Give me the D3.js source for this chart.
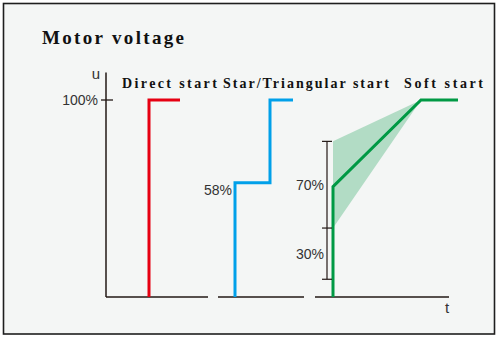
<!DOCTYPE html>
<html>
<head>
<meta charset="utf-8">
<script src="https://cdnjs.cloudflare.com/ajax/libs/d3/7.8.5/d3.min.js"></script>
<style>
  body { margin: 0; background: #fff; }
  svg { display: block; }
</style>
</head>
<body>
<div id="chartId"></div>
<script>
// chart values (t in arbitrary time units, u in % of full voltage)
const title = "Motor voltage";
const methods = ["Direct start", "Star/Triangular start", "Soft start"];
const methodLabelT = [16, 117, 298];

const directT = [43, 43, 74];
const directU = [0, 100, 100];

const starT = [129, 129, 164, 164, 187];
const starU = [0, 58, 58, 100, 100];

const softT = [227, 227, 315, 352];
const softU = [0, 56, 100, 100];

// tolerance band around the soft start ramp
const bandT = [227, 315];
const bandUpper = [79, 100];
const bandLower = [35, 100];

// bracket showing the start voltage range
const bracketU = [79, 35, 9];
const bracketLabels = ["70%", "30%"];

// broken time axis
const baseStart = [0, 112, 209];
const baseEnd = [102, 198, 343];

const W = 499, H = 339;
const colors = { direct: "#e60012", star: "#00a0e9", soft: "#009944", band: "#b2dcc5", ink: "#231815" };

const svg = d3.select("#chartId").append("svg")
    .attr("width", W).attr("height", H);

svg.append("rect")
    .attr("x", 3.5).attr("y", 3.5)
    .attr("width", 491).attr("height", 330.5)
    .attr("fill", "#f4f6f5")
    .attr("stroke", "#1e1e1e").attr("stroke-width", 1.6);

var x = d3.scaleLinear().domain([0, 352]).range([106, 458]);
var y = d3.scaleLinear().domain([0, 100]).range([297, 100]);

// serif "monospaced" look: stretch each string to 7.9px / char
var serifFont = "Liberation Serif, Times New Roman, serif";

// title
svg.append("text")
    .attr("x", 42).attr("y", 44)
    .attr("font-family", serifFont)
    .attr("font-weight", "bold")
    .attr("font-size", 19)
    .attr("fill", "#111")
    .attr("textLength", 142)
    .attr("lengthAdjust", "spacing")
    .text(title);

// y axis line + 100% tick
svg.append("line")
    .attr("x1", x(0)).attr("x2", x(0))
    .attr("y1", y(0)).attr("y2", y(114))
    .attr("stroke", colors.ink).attr("stroke-width", 1.5);
svg.append("line")
    .attr("x1", x(0) - 5).attr("x2", x(0) + 7)
    .attr("y1", y(100)).attr("y2", y(100))
    .attr("stroke", colors.ink).attr("stroke-width", 1.3);

var pctFont = "Liberation Sans, Arial, sans-serif";
svg.append("text")
    .attr("x", x(0) - 8).attr("y", y(100) + 5)
    .attr("text-anchor", "end")
    .attr("font-family", pctFont).attr("font-size", 14)
    .attr("fill", "#333").text("100%");
svg.append("text")
    .attr("x", x(0) - 6).attr("y", 79)
    .attr("text-anchor", "end")
    .attr("font-family", pctFont).attr("font-size", 15)
    .attr("fill", "#333").text("u");

// broken baseline
svg.selectAll(".base")
    .data(baseStart)
    .enter()
    .append("line")
    .attr("class", "base")
    .attr("x1", function(d) { return x(d); })
    .attr("x2", function(d, i) { return x(baseEnd[i]); })
    .attr("y1", y(0)).attr("y2", y(0))
    .attr("stroke", colors.ink).attr("stroke-width", 1.5);

svg.append("text")
    .attr("x", x(baseEnd[2]) - 2).attr("y", 313)
    .attr("text-anchor", "middle")
    .attr("font-family", pctFont).attr("font-size", 15)
    .attr("fill", "#333").text("t");

// method labels
svg.selectAll(".method")
    .data(methods)
    .enter()
    .append("text")
    .attr("class", "method")
    .attr("x", function(d, i) { return x(methodLabelT[i]); })
    .attr("y", 88)
    .attr("font-family", serifFont)
    .attr("font-weight", "bold")
    .attr("font-size", 14)
    .attr("fill", "#111")
    .attr("textLength", function(d) { return d.length * 7.9; })
    .attr("lengthAdjust", "spacing")
    .text(function(d) { return d; });

// soft start band
var band = bandT.map(function(t, i) { return [x(t), y(bandUpper[i])]; })
    .concat(bandT.slice().reverse().map(function(t, i) {
        return [x(t), y(bandLower[bandLower.length - 1 - i])];
    }));
svg.append("path")
    .attr("d", d3.line()(band) + "Z")
    .attr("fill", colors.band);

var line = d3.line()
    .x(function(d) { return x(d[0]); })
    .y(function(d) { return y(d[1]); });

function curve(ts, us, color) {
    svg.append("path")
        .attr("d", line(d3.zip(ts, us)))
        .attr("fill", "none")
        .attr("stroke", color)
        .attr("stroke-width", 3)
        .attr("stroke-linejoin", "miter");
}
curve(directT, directU, colors.direct);
curve(starT, starU, colors.star);
curve(softT, softU, colors.soft);

svg.append("text")
    .attr("x", x(starT[1]) - 3).attr("y", y(starU[1]) + 12)
    .attr("text-anchor", "end")
    .attr("font-family", pctFont).attr("font-size", 14)
    .attr("fill", "#333").text("58%");

// bracket
var bx = x(softT[0]) - 6;
svg.append("line")
    .attr("x1", bx).attr("x2", bx)
    .attr("y1", y(bracketU[0])).attr("y2", y(bracketU[2]))
    .attr("stroke", colors.ink).attr("stroke-width", 1.2);
svg.selectAll(".btick")
    .data(bracketU)
    .enter()
    .append("line")
    .attr("class", "btick")
    .attr("x1", bx - 5).attr("x2", bx + 5)
    .attr("y1", function(d) { return y(d); })
    .attr("y2", function(d) { return y(d); })
    .attr("stroke", colors.ink).attr("stroke-width", 1.2);
svg.selectAll(".blabel")
    .data(bracketLabels)
    .enter()
    .append("text")
    .attr("class", "blabel")
    .attr("x", bx - 3)
    .attr("y", function(d, i) { return (y(bracketU[i]) + y(bracketU[i + 1])) / 2 + 5; })
    .attr("text-anchor", "end")
    .attr("font-family", pctFont).attr("font-size", 14)
    .attr("fill", "#333")
    .text(function(d) { return d; });
</script>
</body>
</html>
